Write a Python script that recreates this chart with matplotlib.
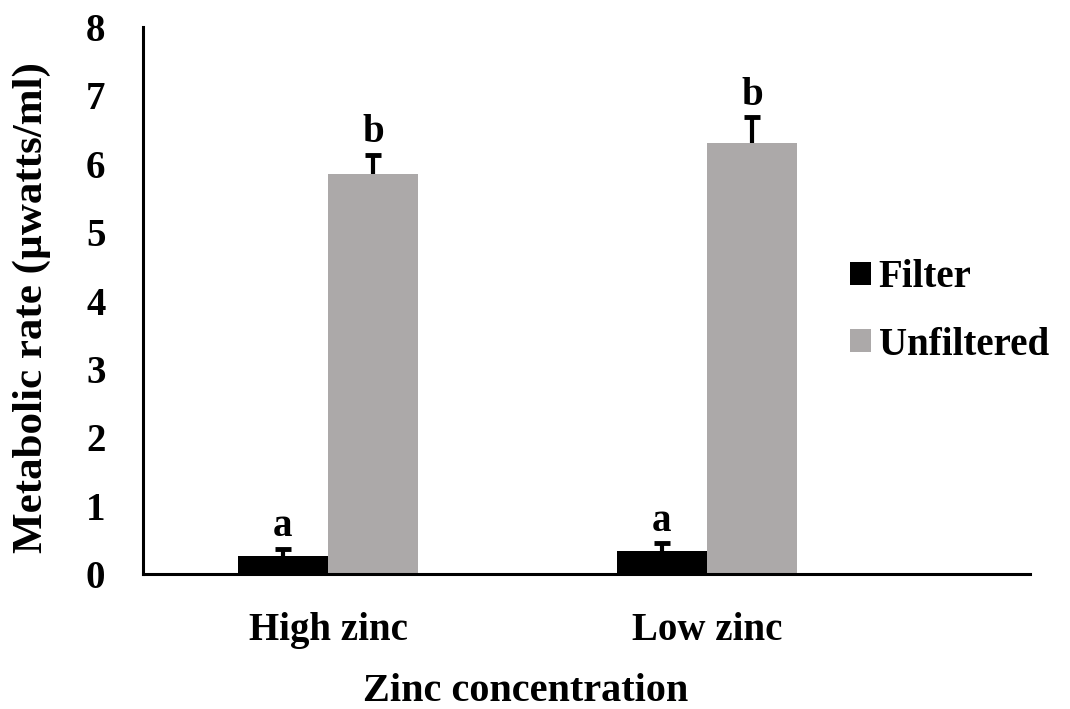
import matplotlib
matplotlib.use("Agg")
import matplotlib.pyplot as plt
import numpy as np

categories = ["High zinc", "Low zinc"]
series_names = ["Filter", "Unfiltered"]
filter_vals = [0.26, 0.34]
filter_err = [0.11, 0.11]
unfilt_vals = [5.85, 6.30]
unfilt_err = [0.28, 0.38]
filter_letters = ["a", "a"]
unfilt_letters = ["b", "b"]

plt.rcParams['font.family'] = ['Liberation Serif', 'DejaVu Serif']
plt.rcParams['font.weight'] = 'bold'

fig = plt.figure(figsize=(10.7, 7.09), dpi=100)
ax = fig.add_axes([0.1336, 0.1904, 0.829, 0.7715])

x = np.arange(len(categories))
w = 0.2375
black = "#000000"
gray = "#ACA9A9"

ax.bar(x - w/2, filter_vals, w, color=black, label=series_names[0], zorder=2)
ax.bar(x + w/2, unfilt_vals, w, color=gray, label=series_names[1], zorder=2)
for xs, vals, errs in [(x - w/2, filter_vals, filter_err), (x + w/2, unfilt_vals, unfilt_err)]:
    _, caps, _ = ax.errorbar(xs, vals, yerr=[np.zeros(2), errs], fmt='none',
                             ecolor=black, elinewidth=3, capsize=6, capthick=3.5, zorder=3)
    caps[0].set_visible(False)

for i in range(len(categories)):
    ax.text(x[i] - w/2, filter_vals[i] + filter_err[i] + 0.05, filter_letters[i],
            ha='center', va='bottom', fontsize=28, fontweight='bold')
    ax.text(x[i] + w/2, unfilt_vals[i] + unfilt_err[i] + 0.05, unfilt_letters[i],
            ha='center', va='bottom', fontsize=28, fontweight='bold')

ax.set_xlim(-0.488, 1.852)
ax.set_ylim(0, 8)
ax.set_yticks(range(0, 9))
ax.set_xticks(x)
ax.set_xticklabels(categories, fontsize=28, fontweight='bold')
ax.tick_params(axis='y', labelsize=28, length=0, pad=27)
ax.tick_params(axis='x', length=0, pad=27.5)
for lab in ax.get_yticklabels():
    lab.set_fontweight('bold')
ax.spines['top'].set_visible(False)
ax.spines['right'].set_visible(False)
ax.spines['left'].set_linewidth(2.2)
ax.spines['bottom'].set_linewidth(2.2)

ax.set_xlabel("Zinc concentration", fontsize=29, fontweight='bold', va='center')
ax.xaxis.set_label_coords(0.431, -0.215)
ax.set_ylabel("Metabolic rate (\u00b5watts/ml)", fontsize=31, fontweight='bold', va='center')
ax.yaxis.set_label_coords(-0.125, 0.488)

leg = ax.legend(loc='center left', bbox_to_anchor=(0.7576, 0.48), frameon=False,
                handlelength=0.54, handleheight=0.54, handletextpad=0.2,
                labelspacing=0.78, prop={'weight': 'bold', 'size': 28})

fig.savefig("out.png", dpi=100)
